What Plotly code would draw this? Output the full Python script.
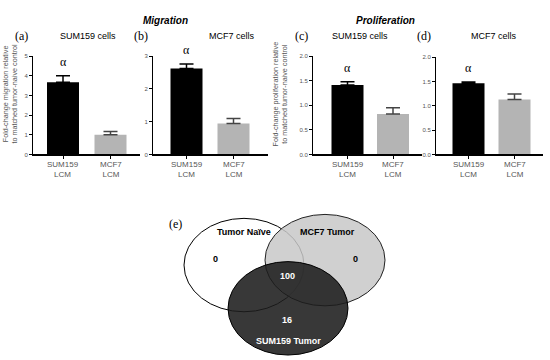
import plotly.graph_objects as go

W, H = 550, 360

# ---------------- data ----------------
categories = ["SUM159<br>LCM", "MCF7<br>LCM"]
panel_labels = ["(a)", "(b)", "(c)", "(d)"]
panel_titles = ["SUM159 cells", "MCF7 cells", "SUM159 cells", "MCF7 cells"]
mig_sum159_cells = [3.67, 1.00]
mig_sum159_err = [0.33, 0.16]
mig_mcf7_cells = [2.62, 0.94]
mig_mcf7_err = [0.14, 0.16]
pro_sum159_cells = [1.41, 0.82]
pro_sum159_err = [0.07, 0.13]
pro_mcf7_cells = [1.46, 1.13]
pro_mcf7_err = [0.03, 0.11]
y_max = [5, 3, 2.0, 2.0]
y_dtick = [1, 1, 0.5, 0.5]
group_titles = ["Migration", "Proliferation"]
ytitle_mig = "Fold-change migration relative<br>to matched tumor-naive control"
ytitle_pro = "Fold-change proliferation relative<br>to matched tumor-naive control"
venn_sets = ["Tumor Naïve", "MCF7 Tumor", "SUM159 Tumor"]
venn_counts = {"naive_only": 0, "mcf7_only": 0, "all": 100, "sum159_only": 16}

values = [mig_sum159_cells, mig_mcf7_cells, pro_sum159_cells, pro_mcf7_cells]
errors = [mig_sum159_err, mig_mcf7_err, pro_sum159_err, pro_mcf7_err]

# ---------------- layout geometry (pixels) ----------------
def fx(x):
    return x / W

def fy(y):
    return 1 - y / H

# axis left px, axis right px, bar centre 0, bar centre 1, top px of y range, title centre px
geo = [
    (33, 140, 63, 110.5, 54, 88),
    (153, 268, 186.5, 233.5, 54, 232),
    (313, 422, 347.5, 393, 54, 360),
    (436, 543, 468.5, 514.5, 55, 494),
]
y0px = 154
bar_px = 32

fig = go.Figure()
sans = "Arial, Liberation Sans, sans-serif"
serif = "Times New Roman, Liberation Serif, serif"
colors = ["#000000", "#b4b4b4"]
err_colors = ["#000000", "#444444"]

annotations = []
for i in range(4):
    xl, xr, c0, c1, ytop, tc = geo[i]
    unit = c1 - c0
    r0 = -(c0 - xl) / unit
    r1 = 1 + (xr - c1) / unit
    ax = "" if i == 0 else str(i + 1)
    for j in range(2):
        fig.add_trace(go.Bar(
            x=[j], y=[values[i][j]], width=bar_px / unit,
            marker=dict(color=colors[j], line=dict(width=0)),
            error_y=dict(type="data", symmetric=False, array=[errors[i][j]],
                         arrayminus=[0], color=err_colors[j], thickness=1.5, width=7),
            xaxis="x" + ax, yaxis="y" + ax, showlegend=False,
        ))
        # category label under the axis
        annotations.append(dict(
            x=j, y=fy(169.5), xref="x" + ax, yref="paper", text=categories[j],
            showarrow=False, xanchor="center", yanchor="middle",
            font=dict(family=sans, size=8, color="#555555"),
        ))
    fig.update_layout(**{
        "xaxis" + ax: dict(
            domain=[fx(xl), fx(xr)], range=[r0, r1], anchor="y" + ax,
            tickvals=[0, 1], showticklabels=False, ticks="outside", ticklen=3,
            tickcolor="black", showline=True, linecolor="black", linewidth=1.5,
            showgrid=False, zeroline=False, fixedrange=True,
        ),
        "yaxis" + ax: dict(
            domain=[fy(y0px), fy(ytop)], range=[0, y_max[i]], anchor="x" + ax,
            dtick=y_dtick[i], tickformat=".1f" if y_dtick[i] < 1 else "d",
            ticks="outside", ticklen=3, tickcolor="black",
            showline=True, linecolor="black", linewidth=1,
            showgrid=False, zeroline=False,
            tickfont=dict(family=sans, size=6, color="#555555"), fixedrange=True,
        ),
    })
    # alpha above SUM159 LCM bar
    annotations.append(dict(
        x=0, y=values[i][0] + errors[i][0], xref="x" + ax, yref="y" + ax,
        text="α", showarrow=False, yanchor="bottom", yshift=5,
        font=dict(family=serif, size=12, color="black"),
    ))
    # panel label and title
    annotations.append(dict(
        x=fx(xl - 12), y=fy(34), xref="paper", yref="paper", text=panel_labels[i],
        showarrow=False, xanchor="center", yanchor="middle",
        font=dict(family=serif, size=12, color="black"),
    ))
    annotations.append(dict(
        x=fx(tc), y=fy(34), xref="paper", yref="paper", text=panel_titles[i],
        showarrow=False, xanchor="center", yanchor="middle",
        font=dict(family=sans, size=9, color="black"),
    ))

# group titles
annotations.append(dict(x=fx(141), y=fy(10), xref="paper", yref="paper",
                        text="<b><i>" + group_titles[0] + "</i></b>", showarrow=False,
                        font=dict(family=sans, size=10, color="black")))
annotations.append(dict(x=fx(417), y=fy(10), xref="paper", yref="paper",
                        text="<b><i>" + group_titles[1] + "</i></b>", showarrow=False,
                        font=dict(family=sans, size=10, color="black")))
# y-axis titles
annotations.append(dict(x=fx(10), y=fy(93), xref="paper", yref="paper", text=ytitle_mig,
                        textangle=-90, showarrow=False, xanchor="center", yanchor="middle",
                        font=dict(family=sans, size=7.2, color="#555555")))
annotations.append(dict(x=fx(280), y=fy(92), xref="paper", yref="paper", text=ytitle_pro,
                        textangle=-90, showarrow=False, xanchor="center", yanchor="middle",
                        font=dict(family=sans, size=7.2, color="#555555")))

# ---------------- Venn diagram ----------------
shapes = []
ell = [
    ((184, 304, 219, 314), "rgba(255,255,255,1)", "black"),
    ((265, 385, 215, 308), "rgba(200,200,200,0.85)", "#222222"),
    ((228, 348, 263, 358), "rgba(28,28,28,0.88)", "black"),
]
for (x0, x1, y0, y1), fc, lc in ell:
    shapes.append(dict(type="circle", xref="paper", yref="paper",
                       x0=fx(x0), x1=fx(x1), y0=fy(y1), y1=fy(y0),
                       fillcolor=fc, line=dict(color=lc, width=1), layer="above"))

def venn_text(x, y, text, color, size=9, family=sans):
    annotations.append(dict(x=fx(x), y=fy(y), xref="paper", yref="paper",
                            text=text, showarrow=False, xanchor="center", yanchor="middle",
                            font=dict(family=family, size=size, color=color)))

venn_text(175, 225, "(e)", "black", 12, serif)
venn_text(244, 233, "<b>" + venn_sets[0] + "</b>", "black")
venn_text(327, 233, "<b>" + venn_sets[1] + "</b>", "black")
venn_text(288, 344, "<b>" + venn_sets[2] + "</b>", "white")
venn_text(215, 260, "<b>%d</b>" % venn_counts["naive_only"], "black")
venn_text(355, 260, "<b>%d</b>" % venn_counts["mcf7_only"], "black")
venn_text(287, 278, "<b>%d</b>" % venn_counts["all"], "white")
venn_text(287, 322, "<b>%d</b>" % venn_counts["sum159_only"], "white")

fig.update_layout(
    width=W, height=H, margin=dict(l=0, r=0, t=0, b=0),
    paper_bgcolor="white", plot_bgcolor="white",
    barmode="overlay", showlegend=False,
    annotations=annotations, shapes=shapes,
)

fig.write_html("out.html", config={"displayModeBar": False},
               post_script="document.body.style.margin='0';")
